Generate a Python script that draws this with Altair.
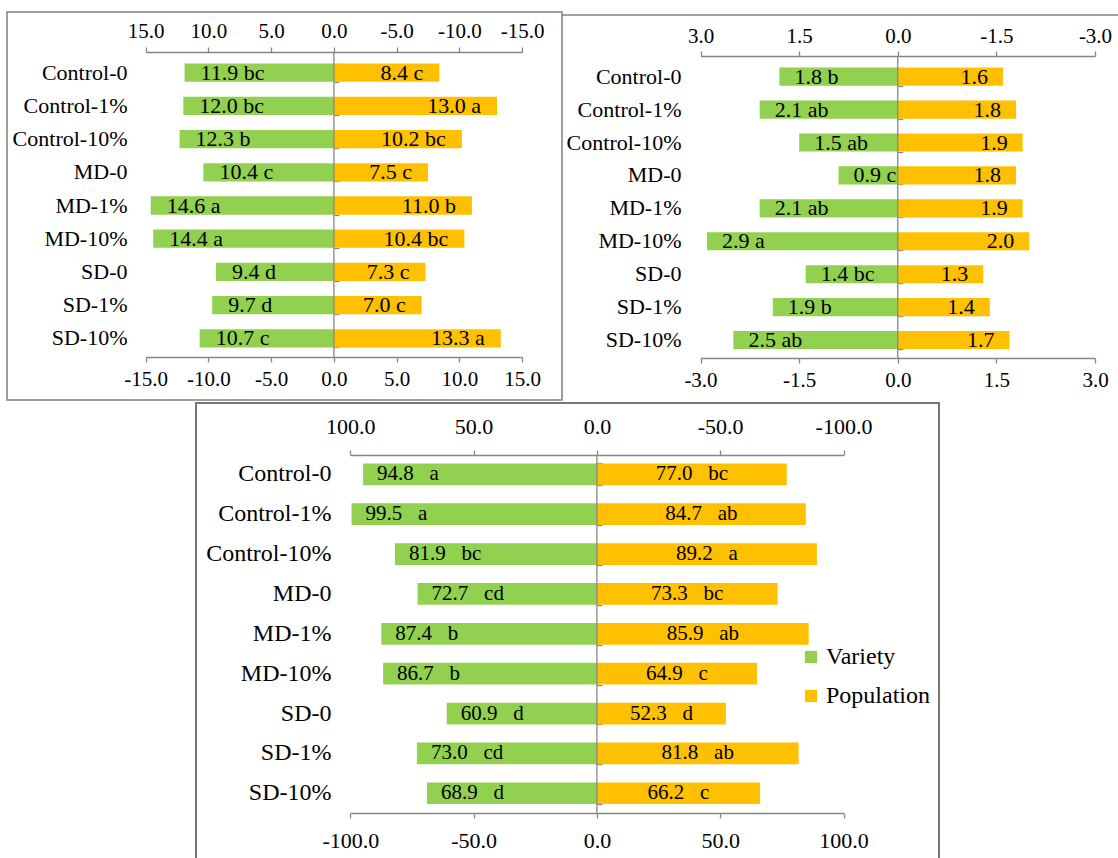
import altair as alt
import pandas as pd

categories = ["Control-0", "Control-1%", "Control-10%", "MD-0", "MD-1%",
              "MD-10%", "SD-0", "SD-1%", "SD-10%"]
series_names = ["Variety", "Population"]

p1_variety = [11.9, 12.0, 12.3, 10.4, 14.6, 14.4, 9.4, 9.7, 10.7]
p1_variety_letters = ["bc", "bc", "b", "c", "a", "a", "d", "d", "c"]
p1_population = [8.4, 13.0, 10.2, 7.5, 11.0, 10.4, 7.3, 7.0, 13.3]
p1_population_letters = ["c", "a", "bc", "c", "b", "bc", "c", "c", "a"]
p1_ticks = [-15, -10, -5, 0, 5, 10, 15]

p2_variety = [1.8, 2.1, 1.5, 0.9, 2.1, 2.9, 1.4, 1.9, 2.5]
p2_variety_letters = ["b", "ab", "ab", "c", "ab", "a", "bc", "b", "ab"]
p2_population = [1.6, 1.8, 1.9, 1.8, 1.9, 2.0, 1.3, 1.4, 1.7]
p2_population_letters = ["", "", "", "", "", "", "", "", ""]
p2_ticks = [-3, -1.5, 0, 1.5, 3]

p3_variety = [94.8, 99.5, 81.9, 72.7, 87.4, 86.7, 60.9, 73.0, 68.9]
p3_variety_letters = ["a", "a", "bc", "cd", "b", "b", "d", "cd", "d"]
p3_population = [77.0, 84.7, 89.2, 73.3, 85.9, 64.9, 52.3, 81.8, 66.2]
p3_population_letters = ["bc", "ab", "a", "bc", "ab", "c", "d", "ab", "c"]
p3_ticks = [-100, -50, 0, 50, 100]

GREEN = "#92D050"
ORANGE = "#FFC000"
GRAY = "#868686"
FONT = "Liberation Serif"
W, H = 1118, 858

BOTTOM_EXPR = "(datum.value < 0 ? '-' : '') + format(abs(datum.value), '.1f')"
TOP_EXPR = "(datum.value > 0 ? '-' : '') + format(abs(datum.value), '.1f')"


def make_frame(v_vals, v_let, p_vals, p_let, sep):
    rows = []
    for c, v, l in zip(categories, v_vals, v_let):
        rows.append({"cat": c, "series": "Variety", "x": -v,
                     "label": f"{v:.1f}{sep}{l}" if l else f"{v:.1f}"})
    for c, v, l in zip(categories, p_vals, p_let):
        rows.append({"cat": c, "series": "Population", "x": v,
                     "label": f"{v:.1f}{sep}{l}" if l else f"{v:.1f}"})
    return pd.DataFrame(rows)


def panel(df, cfg):
    xs = alt.Scale(domain=cfg["domain"], range=cfg["xrange"], nice=False, zero=False)

    def ys():
        return alt.Scale(type="band", domain=categories, range=cfg["yrange"],
                         paddingInner=cfg["pi"], paddingOuter=cfg["pi"] / 2)

    axis_common = dict(values=cfg["ticks"], labelFont=FONT, labelFontSize=cfg["fa"],
                       labelColor="black", domainColor=GRAY, domainWidth=1.3,
                       tickColor=GRAY, tickWidth=1.3, tickSize=5, grid=False,
                       labelFlush=False, labelOverlap=False, title=None)
    bottom_axis = alt.Axis(orient="bottom", offset=cfg["bot"] - H, labelExpr=BOTTOM_EXPR,
                           labelPadding=cfg["lp_bot"], **axis_common)
    top_axis = alt.Axis(orient="top", offset=-cfg["top"], labelExpr=TOP_EXPR,
                        labelPadding=cfg["lp_top"], **axis_common)
    label_axis = alt.Axis(orient="left", offset=-cfg["edge"], domain=False, ticks=False,
                          tickSize=0, labelPadding=0, labelFont=FONT,
                          labelFontSize=cfg["fr"], labelColor="black", title=None,
                          labelOverlap=False)
    zero_x = cfg["xrange"][0] + (cfg["xrange"][1] - cfg["xrange"][0]) / 2
    tick_axis = alt.Axis(orient="right", offset=zero_x - W, domain=False, labels=False,
                         ticks=True, tickBand="extent", tickSize=5, tickColor=GRAY,
                         tickWidth=1.3, grid=False, title=None)

    legend = alt.Legend(orient="none", legendX=799, legendY=645, title=None,
                        symbolType="square", symbolSize=150, labelFont=FONT,
                        labelFontSize=24, labelColor="black", rowPadding=15,
                        labelOffset=3, symbolStrokeWidth=0)

    bars = alt.Chart(df).mark_bar().encode(
        x=alt.X("x:Q", scale=xs, axis=bottom_axis),
        y=alt.Y("cat:N", scale=ys(), axis=label_axis),
        color=alt.Color("series:N", scale=alt.Scale(domain=series_names, range=[GREEN, ORANGE]),
                        legend=legend),
    )
    zero = alt.Chart(pd.DataFrame({"z": [0]})).mark_rule(color=GRAY, strokeWidth=1.3).encode(
        x=alt.X("z:Q", scale=xs, axis=None),
        y=alt.value(cfg["top"]), y2=alt.value(cfg["bot"]),
    )
    green_txt = alt.Chart(df).transform_filter("datum.series == 'Variety'").mark_text(
        align="left", baseline="middle", dx=cfg["dx"], font=FONT, fontSize=cfg["fv"], color="black"
    ).encode(
        x=alt.X("x:Q", scale=xs, axis=top_axis),
        y=alt.Y("cat:N", scale=ys(), axis=None),
        text="label:N",
    )
    if cfg["center_pop"]:
        orange_txt = alt.Chart(df).transform_filter("datum.series == 'Population'").transform_calculate(
            mid="datum.x / 2"
        ).mark_text(align="center", baseline="middle", font=FONT, fontSize=cfg["fv"], color="black").encode(
            x=alt.X("mid:Q", scale=xs, axis=None),
            y=alt.Y("cat:N", scale=ys(), axis=tick_axis),
            text="label:N",
        )
    else:
        orange_txt = alt.Chart(df).transform_filter("datum.series == 'Population'").mark_text(
            align="right", baseline="middle", dx=-cfg["dx"], font=FONT, fontSize=cfg["fv"], color="black"
        ).encode(
            x=alt.X("x:Q", scale=xs, axis=None),
            y=alt.Y("cat:N", scale=ys(), axis=tick_axis),
            text="label:N",
        )
    return [bars, zero, green_txt, orange_txt]


df1 = make_frame(p1_variety, p1_variety_letters, p1_population, p1_population_letters, " ")
df2 = make_frame(p2_variety, p2_variety_letters, p2_population, p2_population_letters, " ")
df3 = make_frame(p3_variety, p3_variety_letters, p3_population, p3_population_letters,
                 "\u00a0\u00a0\u00a0")

cfg1 = dict(domain=[-15, 15], ticks=p1_ticks, xrange=[145.7, 522.1], yrange=[56.1, 354.9],
            pi=0.45, top=52, bot=357, edge=127, fa=21, fr=22, fv=22, dx=16,
            lp_top=6, lp_bot=6, center_pop=False)
cfg2 = dict(domain=[-3, 3], ticks=p2_ticks, xrange=[700.5, 1095.0], yrange=[60.2, 356.5],
            pi=0.45, top=56, bot=358, edge=681, fa=21, fr=22, fv=22, dx=15,
            lp_top=5, lp_bot=6, center_pop=False)
cfg3 = dict(domain=[-100, 100], ticks=p3_ticks, xrange=[350.3, 843.5], yrange=[454.4, 813.2],
            pi=0.456, top=455, bot=813, edge=331, fa=22, fr=24, fv=21, dx=14,
            lp_top=12, lp_bot=12, center_pop=True)

blank = pd.DataFrame({"a": [0]})
box1 = alt.Chart(blank).mark_rect(fillOpacity=0, stroke="#7f7f7f", strokeWidth=1.5).encode(
    x=alt.value(7), x2=alt.value(562), y=alt.value(12), y2=alt.value(400))
top2 = alt.Chart(blank).mark_rule(color="#7f7f7f", strokeWidth=1.5).encode(
    x=alt.value(562), x2=alt.value(1120), y=alt.value(15))
box3 = alt.Chart(blank).mark_rect(fillOpacity=0, stroke="#777777", strokeWidth=2).encode(
    x=alt.value(196), x2=alt.value(939), y=alt.value(403), y2=alt.value(880))

layers = [box1, top2, box3] + panel(df1, cfg1) + panel(df2, cfg2) + panel(df3, cfg3)

chart = alt.layer(*layers).resolve_scale(
    x="independent", y="independent"
).resolve_axis(
    x="independent", y="independent"
).properties(
    width=W, height=H, autosize=alt.AutoSizeParams(type="none"), padding=0
).configure_view(stroke=None)

chart.save("out.html", embed_options={"renderer": "svg", "actions": False})
